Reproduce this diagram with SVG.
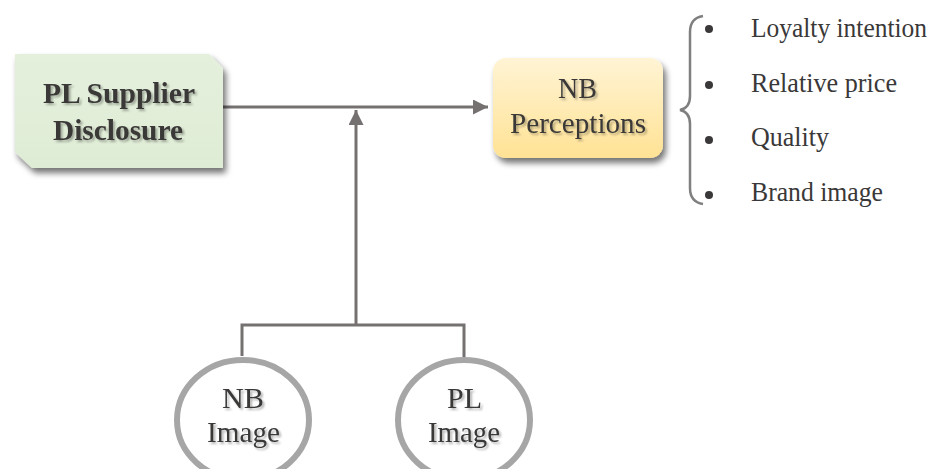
<svg xmlns="http://www.w3.org/2000/svg" width="933" height="469" viewBox="0 0 933 469">
<defs>
<linearGradient id="yel" x1="0" y1="0" x2="0" y2="1">
<stop offset="0" stop-color="#fff4d4"/>
<stop offset="1" stop-color="#ffe294"/>
</linearGradient>
<linearGradient id="grn" x1="0" y1="0" x2="0" y2="1">
<stop offset="0" stop-color="#e4f0dc"/>
<stop offset="1" stop-color="#dfecd5"/>
</linearGradient>
<filter id="sh" x="-20%" y="-20%" width="140%" height="150%">
<feGaussianBlur in="SourceAlpha" stdDeviation="3"/>
<feOffset dx="3" dy="5" result="b"/>
<feComponentTransfer><feFuncA type="linear" slope="0.55"/></feComponentTransfer>
<feMerge><feMergeNode/><feMergeNode in="SourceGraphic"/></feMerge>
</filter>
<filter id="tsh" x="-10%" y="-20%" width="120%" height="150%">
<feGaussianBlur in="SourceAlpha" stdDeviation="1"/>
<feOffset dx="1.5" dy="1.5"/>
<feComponentTransfer><feFuncA type="linear" slope="0.3"/></feComponentTransfer>
<feMerge><feMergeNode/><feMergeNode in="SourceGraphic"/></feMerge>
</filter>
<marker id="ah" viewBox="0 0 10 10" refX="10" refY="5" markerWidth="5" markerHeight="5" orient="auto" markerUnits="strokeWidth">
<path d="M0,0 L10,5 L0,10 z" fill="#767171"/>
</marker>
</defs>
<style>
.t{font-family:"Liberation Serif","Times New Roman",serif;fill:#3a3838;font-size:30px;text-anchor:start}
.b{font-weight:bold}
.l{font-family:"Liberation Serif","Times New Roman",serif;fill:#3a3838;font-size:28px}
.c{fill:none;stroke:#767171;stroke-width:3}
.e{fill:#ffffff;stroke:#a6a6a6;stroke-width:6}
</style>

<g id="connectors">
<line class="c" x1="223" y1="107" x2="488" y2="107" marker-end="url(#ah)"/>
<line class="c" x1="356" y1="326" x2="356" y2="110" marker-end="url(#ah)"/>
<polyline class="c" points="242,356 242,325 464,325 464,357"/>
</g>

<g id="pl-supplier">
<path d="M15,54 L209,54 L223,68 L223,168 L32,168 L15,152 Z" fill="url(#grn)" filter="url(#sh)"/>
<g filter="url(#tsh)">
<text class="t b" x="43" y="103" textLength="152" lengthAdjust="spacingAndGlyphs">PL Supplier</text>
<text class="t b" x="53" y="140" textLength="130" lengthAdjust="spacingAndGlyphs">Disclosure</text>
</g>
</g>

<g id="nb-perceptions">
<rect x="493" y="58" width="170" height="100" rx="13" fill="url(#yel)" filter="url(#sh)"/>
<g filter="url(#tsh)">
<text class="t" x="558" y="98" textLength="39" lengthAdjust="spacingAndGlyphs">NB</text>
<text class="t" x="510" y="133" textLength="136" lengthAdjust="spacingAndGlyphs">Perceptions</text>
</g>
</g>

<g id="nb-image">
<ellipse class="e" cx="243" cy="420" rx="66" ry="60"/>
<g filter="url(#tsh)">
<text class="t" x="222" y="408" textLength="42" lengthAdjust="spacingAndGlyphs">NB</text>
<text class="t" x="207" y="442" textLength="73" lengthAdjust="spacingAndGlyphs">Image</text>
</g>
</g>

<g id="pl-image">
<ellipse class="e" cx="464" cy="420" rx="66" ry="60"/>
<g filter="url(#tsh)">
<text class="t" x="447" y="408" textLength="35" lengthAdjust="spacingAndGlyphs">PL</text>
<text class="t" x="428" y="442" textLength="72" lengthAdjust="spacingAndGlyphs">Image</text>
</g>
</g>

<g id="perception-list">
<path d="M703,16 Q690,18 690,32 L690,96 Q690,108 680,110 Q690,112 690,124 L690,188 Q690,202 703,204" fill="none" stroke="#7f7f7f" stroke-width="2.5"/>
<circle cx="709" cy="29" r="4" fill="#3a3838"/>
<circle cx="709" cy="85" r="4" fill="#3a3838"/>
<circle cx="709" cy="140" r="4" fill="#3a3838"/>
<circle cx="709" cy="195" r="4" fill="#3a3838"/>
<text class="l" x="751" y="37" textLength="176" lengthAdjust="spacingAndGlyphs">Loyalty intention</text>
<text class="l" x="751" y="92" textLength="146" lengthAdjust="spacingAndGlyphs">Relative price</text>
<text class="l" x="751" y="146" textLength="78" lengthAdjust="spacingAndGlyphs">Quality</text>
<text class="l" x="751" y="201" textLength="132" lengthAdjust="spacingAndGlyphs">Brand image</text>
</g>
</svg>
